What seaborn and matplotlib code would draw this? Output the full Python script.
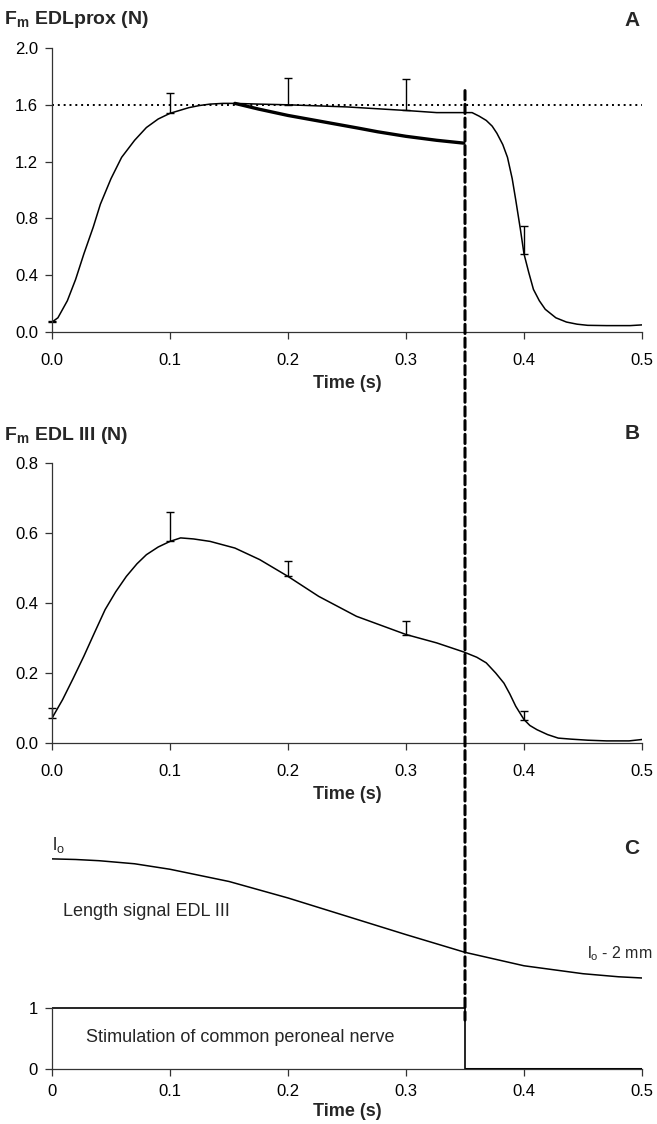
import matplotlib
matplotlib.use("Agg")
import matplotlib.pyplot as plt
from matplotlib.patches import ConnectionPatch
import numpy as np
import pandas as pd
import seaborn as sns

# ---------------- data ----------------
# Panel A: force EDL proximal (N)
tA = [0, 0.005, 0.013, 0.02, 0.027, 0.035, 0.041, 0.05, 0.059, 0.07,
      0.08, 0.09, 0.1, 0.108, 0.116, 0.125, 0.134, 0.145, 0.155, 0.175,
      0.2, 0.25, 0.3, 0.326, 0.345, 0.356, 0.362, 0.368, 0.373, 0.377,
      0.382, 0.386, 0.39, 0.393, 0.397, 0.4, 0.404, 0.408, 0.413, 0.418,
      0.427, 0.436, 0.445, 0.454, 0.47, 0.49, 0.5]
fA = [0.07, 0.10, 0.22, 0.37, 0.55, 0.74, 0.90, 1.08, 1.23, 1.35,
      1.44, 1.50, 1.54, 1.56, 1.58, 1.595, 1.605, 1.61, 1.61, 1.605,
      1.60, 1.585, 1.56, 1.545, 1.545, 1.545, 1.52, 1.49, 1.45, 1.40,
      1.32, 1.23, 1.08, 0.93, 0.72, 0.55, 0.42, 0.30, 0.22, 0.16,
      0.10, 0.07, 0.055, 0.047, 0.045, 0.045, 0.05]
tA_thick = [0.155, 0.175, 0.2, 0.22, 0.24, 0.26, 0.276, 0.3, 0.326, 0.349]
fA_thick = [1.61, 1.57, 1.525, 1.495, 1.465, 1.435, 1.41, 1.378, 1.35, 1.33]
errA_t = [0, 0.1, 0.2, 0.3, 0.4]
errA_mean = [0.07, 1.54, 1.60, 1.56, 0.55]
errA_top = [0.08, 1.685, 1.79, 1.78, 0.745]
refA = 1.6

# Panel B: force EDL III (N)
tB = [0, 0.009, 0.018, 0.027, 0.036, 0.045, 0.054, 0.063, 0.072, 0.08,
      0.09, 0.1, 0.109, 0.12, 0.134, 0.155, 0.176, 0.2, 0.226, 0.258,
      0.3, 0.326, 0.349, 0.36, 0.368, 0.376, 0.383, 0.388, 0.393, 0.4,
      0.405, 0.411, 0.42, 0.429, 0.44, 0.454, 0.47, 0.489, 0.5]
fB = [0.071, 0.124, 0.185, 0.248, 0.315, 0.381, 0.432, 0.476, 0.512, 0.538,
      0.56, 0.576, 0.586, 0.583, 0.576, 0.557, 0.524, 0.476, 0.419, 0.362,
      0.31, 0.286, 0.26, 0.245, 0.229, 0.2, 0.171, 0.14, 0.105, 0.067,
      0.05, 0.038, 0.024, 0.014, 0.011, 0.008, 0.006, 0.006, 0.01]
errB_t = [0, 0.1, 0.2, 0.3, 0.4]
errB_mean = [0.071, 0.576, 0.476, 0.31, 0.067]
errB_top = [0.10, 0.66, 0.521, 0.348, 0.092]

# Panel C: length signal (mm relative to lo) and stimulation
tL = [0, 0.02, 0.04, 0.07, 0.1, 0.15, 0.2, 0.25, 0.3, 0.35, 0.4, 0.45, 0.48, 0.5]
dL = [0, -0.01, -0.03, -0.08, -0.17, -0.37, -0.64, -0.94, -1.24, -1.53,
      -1.75, -1.88, -1.93, -1.95]
LENGTH_BASE = 3.44
tS = [0, 0.35, 0.35, 0.5]
sS = [1, 1, 0, 0]
T_STIM_END = 0.35

# ---------------- figure ----------------
sns.set_theme(style="ticks")
plt.rcParams["font.family"] = ["Liberation Sans", "DejaVu Sans"]
plt.rcParams["mathtext.default"] = "regular"

W, H = 657, 1124
fig = plt.figure(figsize=(W / 100, H / 100), dpi=100)
fig.patch.set_facecolor("white")


def rect(l, r, top, bottom):
    return [l / W, 1 - bottom / H, (r - l) / W, (bottom - top) / H]


axA = fig.add_axes(rect(52, 642, 48, 332))
axB = fig.add_axes(rect(52, 642, 463, 743))
axC = fig.add_axes(rect(52, 642, 843, 1069))

TICK_FS = 12


def style(ax, xpad=10):
    ax.set_facecolor("white")
    for s in ["top", "right"]:
        ax.spines[s].set_visible(False)
    for s in ["left", "bottom"]:
        ax.spines[s].set_color("#333333")
        ax.spines[s].set_linewidth(0.9)
    ax.tick_params(direction="out", length=5, width=0.9, color="#333333",
                   labelsize=TICK_FS, labelcolor="black")
    ax.tick_params(axis="y", pad=5)
    ax.tick_params(axis="x", pad=xpad)
    ax.set_xlim(0, 0.5)
    ax.set_xlabel("Time (s)", fontsize=13, fontweight="bold", labelpad=5)
    ax.set_ylabel("")
    ax.grid(False)


# Panel A
sns.lineplot(x=tA, y=fA, ax=axA, color="black", linewidth=1.1,
             estimator=None, sort=False)
sns.lineplot(x=tA_thick, y=fA_thick, ax=axA, color="black", linewidth=2.4,
             estimator=None, sort=False)
axA.errorbar(errA_t, errA_mean,
             yerr=[np.zeros(len(errA_t)), np.array(errA_top) - np.array(errA_mean)],
             fmt="none", ecolor="black", elinewidth=1.0, capsize=3, capthick=1.0,
             clip_on=False)
axA.axhline(refA, xmin=0, xmax=1, color="black", linestyle=(0, (1, 2)),
            linewidth=1.4)
style(axA)
axA.set_ylim(0, 2.0)
axA.set_yticks([0, 0.4, 0.8, 1.2, 1.6, 2.0])
axA.set_yticklabels(["0.0", "0.4", "0.8", "1.2", "1.6", "2.0"])
axA.set_xticks([0, 0.1, 0.2, 0.3, 0.4, 0.5])
axA.set_xticklabels(["0.0", "0.1", "0.2", "0.3", "0.4", "0.5"])

# Panel B
sns.lineplot(x=tB, y=fB, ax=axB, color="black", linewidth=1.1,
             estimator=None, sort=False)
axB.errorbar(errB_t, errB_mean,
             yerr=[np.zeros(len(errB_t)), np.array(errB_top) - np.array(errB_mean)],
             fmt="none", ecolor="black", elinewidth=1.0, capsize=3, capthick=1.0,
             clip_on=False)
style(axB)
axB.set_ylim(0, 0.8)
axB.set_yticks([0, 0.2, 0.4, 0.6, 0.8])
axB.set_yticklabels(["0.0", "0.2", "0.4", "0.6", "0.8"])
axB.set_xticks([0, 0.1, 0.2, 0.3, 0.4, 0.5])
axB.set_xticklabels(["0.0", "0.1", "0.2", "0.3", "0.4", "0.5"])

# Panel C
sns.lineplot(x=tL, y=np.array(dL) + LENGTH_BASE, ax=axC, color="black",
             linewidth=1.1, estimator=None, sort=False)
sns.lineplot(x=tS, y=sS, ax=axC, color="black", linewidth=1.2,
             estimator=None, sort=False)
axC.plot([T_STIM_END, 0.5], [0, 0], color="black", linewidth=2.2,
         solid_capstyle="butt")
style(axC, xpad=6)
axC.set_ylim(0, 3.7)
axC.set_yticks([0, 1])
axC.set_yticklabels(["0", "1"])
axC.spines["left"].set_bounds(0, 1)
axC.set_xticks([0, 0.1, 0.2, 0.3, 0.4, 0.5])
axC.set_xticklabels(["0", "0.1", "0.2", "0.3", "0.4", "0.5"])
axC.xaxis.labelpad = 3

# dashed vertical line through all panels
con = ConnectionPatch(xyA=(T_STIM_END, 1.70), coordsA=axA.transData,
                      xyB=(T_STIM_END, 0.8), coordsB=axC.transData,
                      color="black", linewidth=2.2, linestyle=(0, (3, 1.5)),
                      zorder=10)
fig.add_artist(con)

# ---------------- texts ----------------
def ftext(x, y, s, **kw):
    fig.text(x / W, 1 - y / H, s, **kw)


ftext(4, 20, "F$_m$ EDLprox (N)", fontsize=14, fontweight="bold",
      ha="left", va="center")
ftext(632, 20, "A", fontsize=15, fontweight="bold", ha="center", va="center")
ftext(4, 435, "F$_m$ EDL III (N)", fontsize=14, fontweight="bold",
      ha="left", va="center")
ftext(632, 434, "B", fontsize=15, fontweight="bold", ha="center", va="center")
ftext(632, 848, "C", fontsize=15, fontweight="bold", ha="center", va="center")
ftext(52, 845, "l$_o$", fontsize=13, ha="left", va="center")
ftext(63, 911, "Length signal EDL III", fontsize=13, ha="left", va="center")
ftext(653, 954, "l$_o$ - 2 mm", fontsize=11.5, ha="right", va="center")
ftext(86, 1037, "Stimulation of common peroneal nerve", fontsize=13,
      ha="left", va="center")

fig.savefig("out.png", dpi=100, facecolor="white")
